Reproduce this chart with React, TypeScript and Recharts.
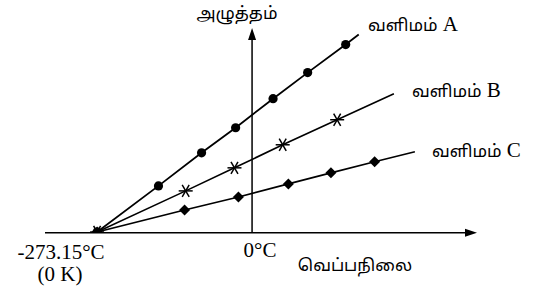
import React from "react";
import {
  ComposedChart,
  Line,
  XAxis,
  YAxis,
  ReferenceLine,
  ReferenceDot,
} from "recharts";

// Temperature (°C) and volume (arbitrary units)
const tempsA = [-273.15, -165, -89, -29, 37, 98, 165, 188];
const volsA = [0, 46, 79, 104, 133, 159, 187, 197];
const tempsB = [-273.15, -117, -31, 54, 150, 250];
const volsB = [0, 41, 64, 87, 112, 138];
const tempsC = [-273.15, -119, -24, 64, 139, 216, 287];
const volsC = [0, 22, 35, 48, 59, 70, 80];

const gasWord = "வளிமம்";
const gasLetters = ["A", "B", "C"];
const yAxisTitle = "அழுத்தம்";
const xAxisTitle = "வெப்பநிலை";
const zeroLabel = "0°C";
const absLabel1 = "-273.15°C";
const absLabel2 = "(0 K)";

const X_MIN = -365;
const X_MAX = 396.5;
const Y_MIN = 0;
const Y_MAX = 203.5;

const build = (t: number[], v: number[]) =>
  t.map((x, i) => ({ t: x, v: v[i], end: i === t.length - 1 }));

const dataA = build(tempsA, volsA);
const dataB = build(tempsB, volsB);
const dataC = build(tempsC, volsC);

const serif = "Liberation Serif";
const tamil = "Noto Sans Tamil";

const CircleDot = (p: any) => {
  if (p.payload?.end || p.cx == null) return <g key={p.key} />;
  return <circle key={p.key} cx={p.cx} cy={p.cy} r={4.6} fill="#000" />;
};

const StarDot = (p: any) => {
  if (p.payload?.end || p.cx == null) return <g key={p.key} />;
  const { cx, cy } = p;
  const r = 7;
  const a = (60 * Math.PI) / 180;
  const dx = Math.cos(a) * r;
  const dy = Math.sin(a) * r;
  return (
    <g key={p.key} stroke="#000" strokeWidth={1.5}>
      <line x1={cx - r} y1={cy} x2={cx + r} y2={cy} />
      <line x1={cx - dx} y1={cy - dy} x2={cx + dx} y2={cy + dy} />
      <line x1={cx - dx} y1={cy + dy} x2={cx + dx} y2={cy - dy} />
    </g>
  );
};

const DiamondDot = (p: any) => {
  if (p.payload?.end || p.cx == null) return <g key={p.key} />;
  const { cx, cy } = p;
  const s = 5.5;
  return (
    <polygon
      key={p.key}
      points={`${cx},${cy - s} ${cx + s},${cy} ${cx},${cy + s} ${cx - s},${cy}`}
      fill="#000"
    />
  );
};

const RightArrow = (p: any) => {
  const { cx, cy } = p;
  return (
    <polygon
      points={`${cx},${cy} ${cx - 12},${cy - 4} ${cx - 12},${cy + 4}`}
      fill="#000"
    />
  );
};

const UpArrow = (p: any) => {
  const { cx, cy } = p;
  return (
    <polygon
      points={`${cx},${cy} ${cx - 4},${cy + 12} ${cx + 4},${cy + 12}`}
      fill="#000"
    />
  );
};

const GasLabel = ({ x, y, letter }: { x: number; y: number; letter: string }) => (
  <text x={x} y={y} fill="#000">
    <tspan fontFamily={tamil} fontSize={17}>
      {gasWord}
    </tspan>
    <tspan fontFamily={serif} fontSize={21}>
      {" " + letter}
    </tspan>
  </text>
);

export default function App() {
  return (
    <div style={{ position: "absolute", left: 0, top: 0, background: "#fff" }}>
      <ComposedChart
        width={533}
        height={290}
        margin={{ top: 28, right: 56, bottom: 58, left: 45 }}
      >
        <XAxis
          type="number"
          dataKey="t"
          domain={[X_MIN, X_MAX]}
          hide
          allowDataOverflow
        />
        <YAxis
          type="number"
          dataKey="v"
          domain={[Y_MIN, Y_MAX]}
          hide
          allowDataOverflow
        />
        <ReferenceLine
          segment={[
            { x: X_MIN, y: -0.7 },
            { x: X_MAX - 8, y: -0.7 },
          ]}
          stroke="#000"
          strokeWidth={1.5}
          ifOverflow="visible"
        />
        <ReferenceLine
          segment={[
            { x: 0, y: -0.7 },
            { x: 0, y: Y_MAX - 8 },
          ]}
          stroke="#000"
          strokeWidth={1.5}
          ifOverflow="visible"
        />
        <ReferenceDot
          x={X_MAX}
          y={-0.7}
          r={0}
          shape={RightArrow}
          ifOverflow="visible"
        />
        <ReferenceDot
          x={0}
          y={Y_MAX}
          r={0}
          shape={UpArrow}
          ifOverflow="visible"
        />
        <Line
          data={dataA}
          dataKey="v"
          type="linear"
          stroke="#000"
          strokeWidth={1.8}
          dot={CircleDot}
          activeDot={false}
          isAnimationActive={false}
          name={gasWord + " A"}
        />
        <Line
          data={dataB}
          dataKey="v"
          type="linear"
          stroke="#000"
          strokeWidth={1.6}
          dot={StarDot}
          activeDot={false}
          isAnimationActive={false}
          name={gasWord + " B"}
        />
        <Line
          data={dataC}
          dataKey="v"
          type="linear"
          stroke="#000"
          strokeWidth={1.6}
          dot={DiamondDot}
          activeDot={false}
          isAnimationActive={false}
          name={gasWord + " C"}
        />
        <text x={237} y={19} textAnchor="middle" fontSize={17} fontFamily={tamil} fill="#000">
          {yAxisTitle}
        </text>
        <GasLabel x={368} y={31} letter={gasLetters[0]} />
        <GasLabel x={412} y={97} letter={gasLetters[1]} />
        <GasLabel x={432} y={157} letter={gasLetters[2]} />
        <text x={260} y={257} textAnchor="middle" fontSize={21} fontFamily={serif} fill="#000">
          {zeroLabel}
        </text>
        <text x={355} y={271} textAnchor="middle" fontSize={17} fontFamily={tamil} fill="#000">
          {xAxisTitle}
        </text>
        <text x={61} y={259} textAnchor="middle" fontSize={21} fontFamily={serif} fill="#000">
          {absLabel1}
        </text>
        <text x={60} y={281} textAnchor="middle" fontSize={21} fontFamily={serif} fill="#000">
          {absLabel2}
        </text>
      </ComposedChart>
    </div>
  );
}
